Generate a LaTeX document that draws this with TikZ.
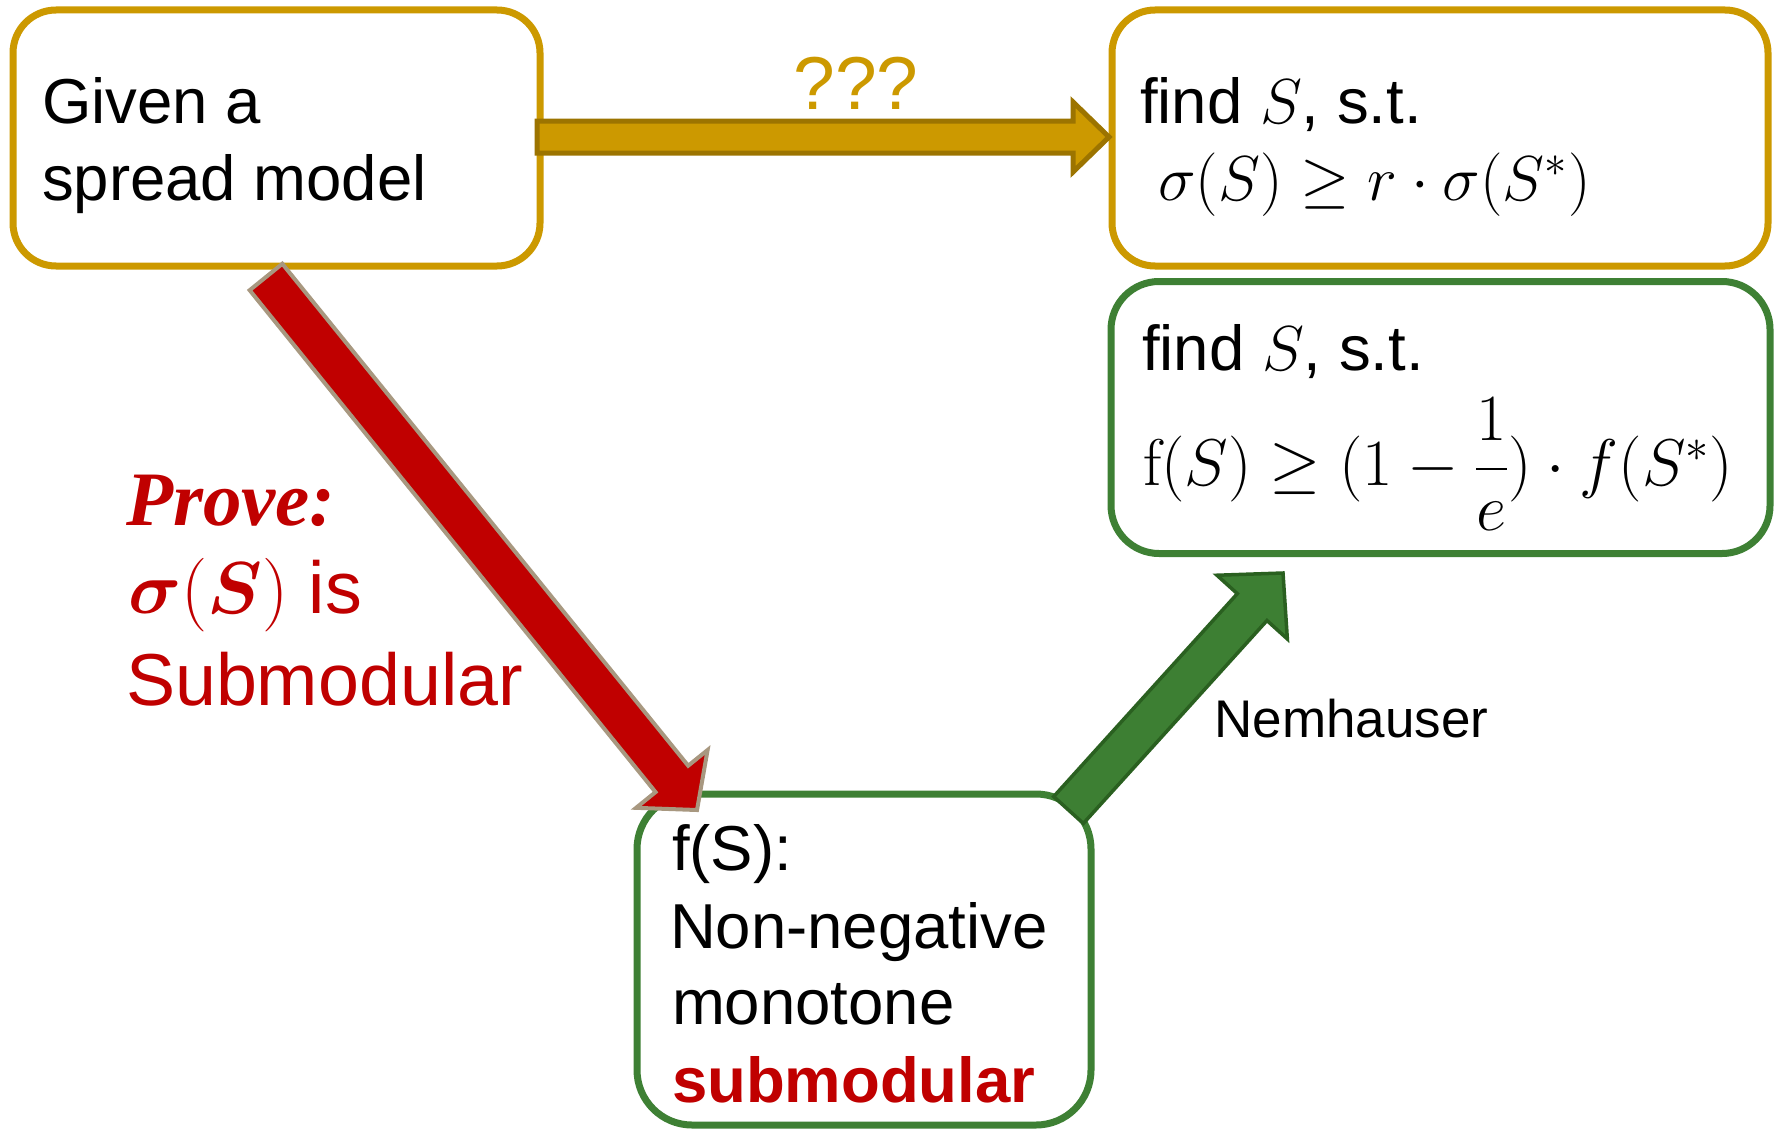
\RequirePackage{fix-cm}
\documentclass[tikz,border=0pt]{standalone}
\usepackage{amsmath,bm}
\usepackage[no-math]{fontspec}
\setmainfont{Liberation Sans}
\newfontfamily\timesfont{Liberation Serif}
\usetikzlibrary{calc}
\definecolor{gold}{RGB}{204,153,0}
\definecolor{golddark}{RGB}{156,116,0}
\definecolor{gboxc}{RGB}{62,128,52}
\definecolor{garrow}{RGB}{61,127,51}
\definecolor{garrowdark}{RGB}{42,96,32}
\definecolor{pptred}{RGB}{192,0,0}
\definecolor{redborder}{RGB}{168,152,128}
\newcommand\myblockarrow[6]{% style, tail, tip, half shaft, half head, head length
  \coordinate (#3-hb) at ($(#3)!#6!(#2)$);
  \draw[#1] ($(#2)!#4!90:(#3)$) -- ($(#3-hb)!#4!-90:(#2)$) -- ($(#3-hb)!#5!-90:(#2)$) -- (#3)
     -- ($(#3-hb)!#5!90:(#2)$) -- ($(#3-hb)!#4!90:(#2)$) -- ($(#2)!#4!-90:(#3)$) -- cycle;
}
\tikzset{
  roundbox/.style={draw, line width=3.5pt, rounded corners=#1, inner sep=0pt, outer sep=0pt, fill=white},
  txt/.style={anchor=base west, inner sep=0pt, outer sep=0pt, font=\fontsize{31.75}{38}\selectfont},
  redtxt/.style={anchor=base west, inner sep=0pt, outer sep=0pt, text=pptred, font=\fontsize{36.8}{44}\selectfont},
  blockarr/.style={line join=miter, miter limit=10},
}
\begin{document}
\begin{tikzpicture}[x=0.5pt,y=-0.5pt]
\useasboundingbox (0,0) rectangle (1780,1129);
% boxes
\node[roundbox=21.5pt, draw=gold, minimum width=263.5pt, minimum height=128pt] (A) at (276.5,138) {};
\node[roundbox=21.5pt, draw=gold, minimum width=328pt, minimum height=128pt] (B) at (1440,138) {};
\node[roundbox=24pt, draw=gboxc, minimum width=329.5pt, minimum height=136pt] (C) at (1440.5,417.5) {};
\node[roundbox=27.5pt, draw=gboxc, minimum width=227pt, minimum height=165.5pt] (D) at (864,959.5) {};
% arrows
\coordinate (ytail) at (537,137);
\coordinate (ytip) at (1109,137);
\myblockarrow{blockarr, fill=gold, draw=golddark, line width=2.5pt}{ytail}{ytip}{8pt}{17.5pt}{18pt}
\coordinate (rtail) at (266,277);
\coordinate (rtip) at (697,810);
\myblockarrow{blockarr, fill=pptred, draw=redborder, line width=2pt}{rtail}{rtip}{10.5pt}{23pt}{20pt}
\coordinate (gtail) at (1068.5,810);
\coordinate (gtip) at (1283,573);
\myblockarrow{blockarr, fill=garrow, draw=garrowdark, line width=1.75pt}{gtail}{gtip}{10pt}{23.75pt}{23pt}
% texts
\node[txt] (tA1) at (42,123) {Given a};
\node[txt] (tA2) at (42,200) {spread model};
\node[txt] (tB1) at (1140,123) {find $S$, s.t.};
\node[txt] (tB2) at (1158,200) {$\sigma(S)\geq r\cdot\sigma(S^{*})$};
\node[txt] (tC1) at (1142,370) {find $S$, s.t.};
\node[txt, font=\fontsize{33}{40}\selectfont] (tC2) at (1143,485) {$\mathrm{f}(S)\geq(1-\dfrac{1}{e})\cdot f(S^{*})$};
\node[txt] (tD1) at (672,870) {f(S):};
\node[txt] (tD2) at (670,948) {Non-negative};
\node[txt] (tD3) at (672,1024) {monotone};
\node[txt, text=pptred, font=\fontsize{31.75}{38}\selectfont\bfseries] (tD4) at (672,1102) {submodular};
\node[anchor=base, inner sep=0pt, text=gold, font=\fontsize{37.5}{45}\selectfont] (q) at (856,110) {???};
\node[redtxt, font=\fontsize{38.5}{46}\selectfont\timesfont\bfseries\itshape] (p1) at (126,525) {Prove:};
\node[redtxt] (p2) at (128,613) {$\bm{\sigma}(\bm{S})$ is};
\node[redtxt] (p3) at (126,705) {Submodular};
\node[anchor=base west, inner sep=0pt, font=\fontsize{26.5}{32}\selectfont] (nem) at (1214,737) {Nemhauser};
\end{tikzpicture}
\end{document}
